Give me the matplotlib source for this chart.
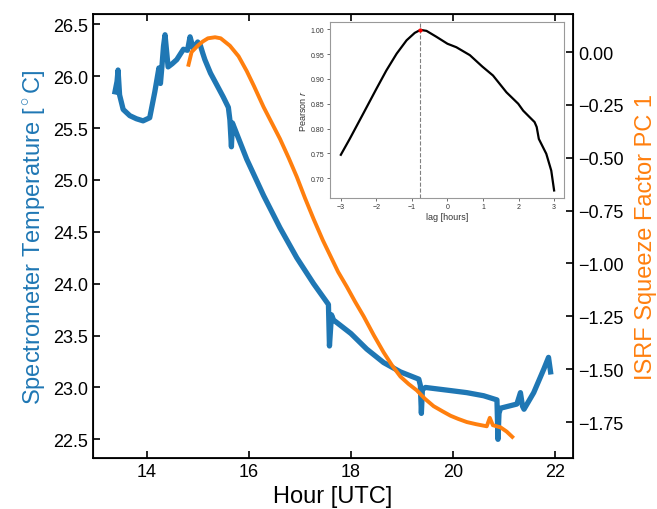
import numpy as np
import matplotlib
matplotlib.use("Agg")
import matplotlib.pyplot as plt

plt.rcParams['font.family'] = ['Liberation Sans', 'DejaVu Sans']
plt.rcParams['mathtext.fontset'] = 'custom'
plt.rcParams['mathtext.rm'] = 'Liberation Sans'
plt.rcParams['mathtext.it'] = 'Liberation Sans:italic'

# Spectrometer temperature (blue, left axis)
hour_t = [13.38, 13.42, 13.44, 13.47, 13.54, 13.67, 13.80, 13.93, 14.06, 14.16,
          14.24, 14.27, 14.30, 14.33, 14.36, 14.42, 14.50, 14.59, 14.72, 14.80,
          14.85, 14.91, 15.00, 15.05, 15.10, 15.14, 15.25, 15.37, 15.50, 15.60,
          15.63, 15.66, 15.68, 15.72, 15.96, 16.29, 16.61, 16.94, 17.27, 17.56,
          17.58, 17.62, 17.66, 18.00, 18.31, 18.64, 18.97, 19.33, 19.36, 19.38,
          19.40, 19.46, 19.95, 20.27, 20.60, 20.86, 20.88, 20.90, 20.93, 21.25,
          21.32, 21.36, 21.39, 21.58, 21.78, 21.87, 21.91]
temp = [25.85, 25.95, 26.06, 25.82, 25.68, 25.62, 25.59, 25.57, 25.60, 25.85,
        26.08, 25.93, 26.10, 26.29, 26.40, 26.09, 26.12, 26.16, 26.26, 26.25,
        26.38, 26.27, 26.33, 26.30, 26.22, 26.16, 26.03, 25.92, 25.80, 25.70,
        25.58, 25.32, 25.55, 25.50, 25.20, 24.85, 24.54, 24.25, 24.00, 23.80,
        23.40, 23.70, 23.65, 23.52, 23.37, 23.24, 23.15, 23.08, 23.02, 22.75,
        22.98, 23.00, 22.97, 22.95, 22.92, 22.88, 22.50, 22.75, 22.80, 22.84,
        22.95, 22.82, 22.79, 22.95, 23.18, 23.29, 23.15]

# ISRF squeeze factor PC 1 (orange, right axis)
hour_o = [14.82, 14.88, 15.00, 15.10, 15.20, 15.34, 15.45, 15.63, 15.80, 15.96,
          16.10, 16.29, 16.45, 16.61, 16.78, 16.94, 17.10, 17.27, 17.45, 17.60,
          17.75, 17.92, 18.08, 18.25, 18.45, 18.64, 18.80, 18.97, 19.13, 19.29,
          19.45, 19.62, 19.80, 19.95, 20.10, 20.27, 20.45, 20.66, 20.72, 20.78,
          20.93, 21.05, 21.16]
pc1 = [-0.06, 0.00, 0.03, 0.05, 0.065, 0.07, 0.065, 0.03, -0.02, -0.09,
       -0.16, -0.26, -0.335, -0.41, -0.50, -0.59, -0.69, -0.79, -0.89, -0.965,
       -1.04, -1.11, -1.18, -1.25, -1.34, -1.42, -1.48, -1.535, -1.57, -1.60,
       -1.64, -1.675, -1.70, -1.72, -1.735, -1.75, -1.76, -1.77, -1.73, -1.765,
       -1.775, -1.795, -1.82]

# Lag correlation (inset)
lag = [-3.0, -2.75, -2.37, -2.0, -1.72, -1.43, -1.15, -0.92, -0.76, -0.59,
       -0.31, 0.0, 0.25, 0.63, 0.98, 1.28, 1.66, 1.99, 2.13, 2.31,
       2.45, 2.51, 2.57, 2.78, 2.92, 3.0]
pearson = [0.747, 0.779, 0.830, 0.880, 0.917, 0.951, 0.978, 0.993, 0.999, 0.997,
           0.985, 0.971, 0.964, 0.948, 0.925, 0.907, 0.873, 0.850, 0.836, 0.823,
           0.813, 0.803, 0.779, 0.749, 0.715, 0.675]
best_lag = -0.76
best_r = 0.999

blue = '#1f77b4'
orange = '#ff7f0e'

fig = plt.figure(figsize=(6.57, 5.10), dpi=100)
ax = fig.add_axes([0.1416, 0.100, 0.7306, 0.8706])
ax.plot(hour_t, temp, color=blue, lw=3.8)
ax.set_xlim(12.95, 22.35)
ax.set_ylim(22.32, 26.6)
ax.set_xlabel('Hour [UTC]', fontsize=17)
ax.set_ylabel(r'Spectrometer Temperature [$^\circ$C]', fontsize=17, color=blue)
ax.tick_params(direction='in', length=5, width=1.2, labelsize=13, top=True, right=False)
for s in ax.spines.values():
    s.set_linewidth(1.3)

ax2 = ax.twinx()
ax2.plot(hour_o, pc1, color=orange, lw=2.8)
ax2.set_ylim(-1.92, 0.18)
ax2.set_yticks([0.0, -0.25, -0.5, -0.75, -1.0, -1.25, -1.5, -1.75])
ax2.set_ylabel('ISRF Squeeze Factor PC 1', fontsize=17, color=orange, labelpad=8)
ax2.tick_params(direction='in', length=5, width=1.2, labelsize=13)

ins = fig.add_axes([0.502, 0.61, 0.356, 0.345])
ins.plot(lag, pearson, color='black', lw=1.6)
ins.axvline(best_lag, color='gray', ls='--', lw=0.8)
ins.plot([best_lag], [best_r], 'o', color='red', ms=2)
ins.set_xlim(-3.31, 3.27)
ins.set_ylim(0.660, 1.015)
ins.set_xticks([-3, -2, -1, 0, 1, 2, 3])
ins.set_yticks([0.70, 0.75, 0.80, 0.85, 0.90, 0.95, 1.00])
ins.set_xlabel('lag [hours]', fontsize=6.5, color='#333333', labelpad=1)
ins.set_ylabel(r'Pearson $r$', fontsize=6.5, color='#333333', labelpad=2)
ins.tick_params(direction='out', length=2, width=0.5, labelsize=5, colors='#333333', pad=2)
for s in ins.spines.values():
    s.set_color('#999999')
    s.set_linewidth(0.8)

fig.savefig('out.png', dpi=100)
